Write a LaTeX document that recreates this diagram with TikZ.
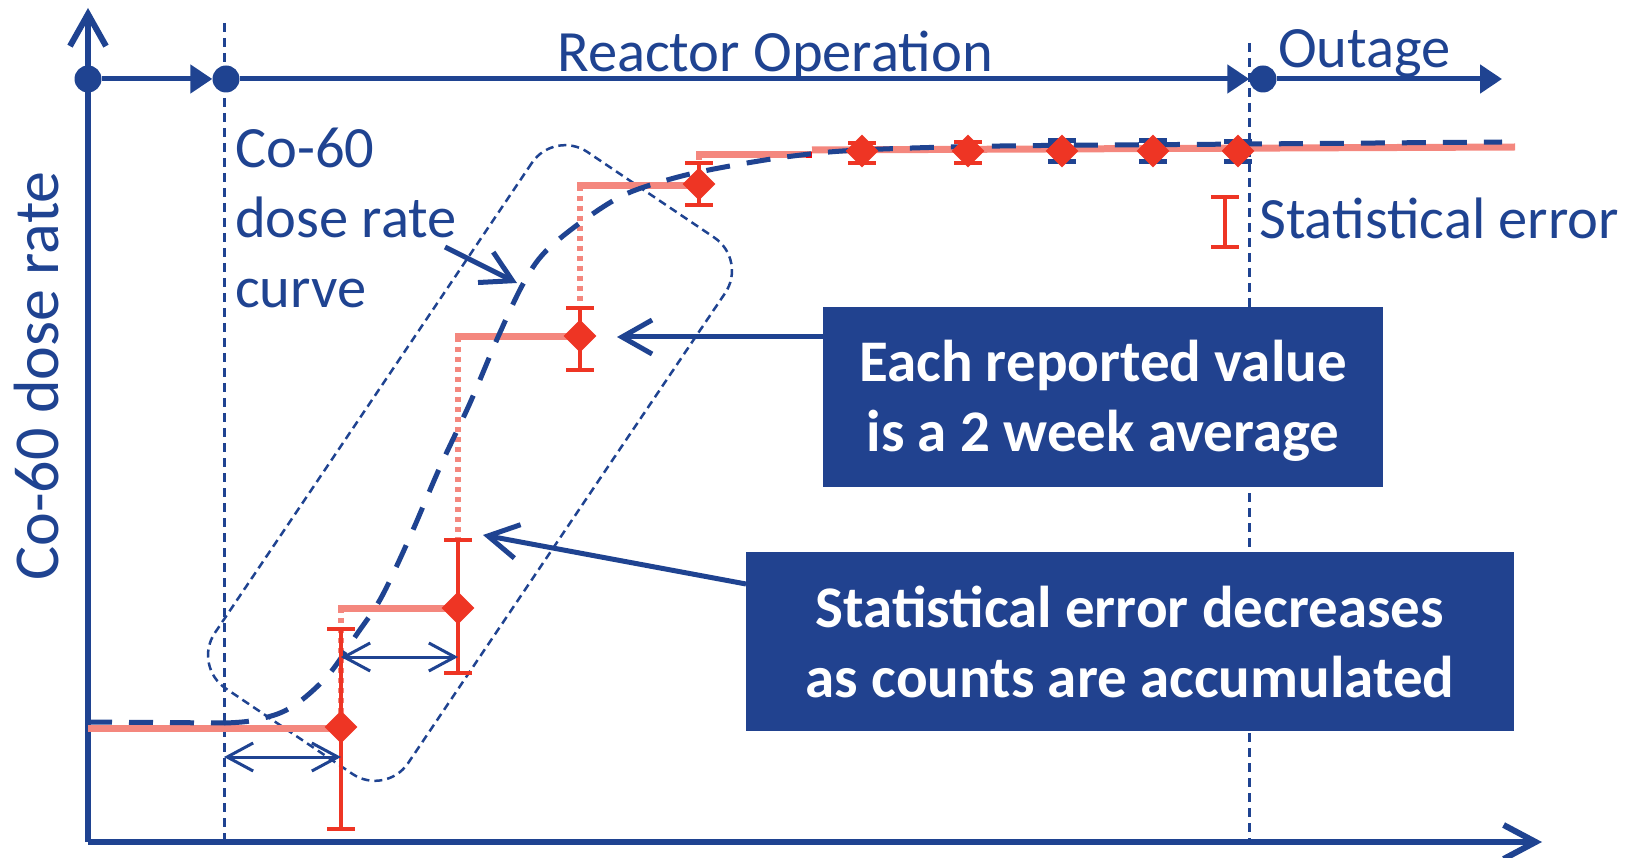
\documentclass[tikz,border=0pt]{standalone}
\usepackage{fontspec}
\setmainfont{Carlito}
\usetikzlibrary{arrows.meta,shapes.geometric,calc}
\definecolor{navy}{HTML}{1F4391}
\definecolor{boxblue}{HTML}{21428F}
\definecolor{redm}{HTML}{EE3524}
\definecolor{salmon}{HTML}{F4877E}
\newcommand\bigtxt{\fontsize{58.5}{70}\selectfont}
\newcommand\ytxt{\fontsize{64}{70}\selectfont}
\newcommand\boxtxt{\fontsize{59}{70}\selectfont\bfseries}
\newcommand\errbar[4]{\draw[#4] (#1,#2) -- (#1,#3) (#1-14,#2) -- (#1+14,#2) (#1-14,#3) -- (#1+14,#3);}
\begin{document}
\begin{tikzpicture}[x=1pt,y=-1pt,
  dot/.style={circle,fill=navy,inner sep=0pt,minimum size=27pt},
  vdash/.style={navy,line width=3pt,dash pattern=on 9pt off 6pt},
  axisline/.style={navy,line width=6pt},
  tline/.style={navy,line width=5pt,-{Triangle[length=22pt,width=28pt]}},
  steph/.style={salmon,line width=7pt},
  stepv/.style={salmon,line width=6pt,dash pattern=on 5pt off 5pt},
  ebar/.style={redm,line width=4pt},
  bcap/.style={navy,line width=5pt},
  diam/.style={diamond,fill=redm,inner sep=0pt,minimum width=33pt,minimum height=33pt},
  dosecurve/.style={navy,line width=5pt,dash pattern=on 24pt off 17pt},
  dblarrow/.style={navy,line width=3pt,{Straight Barb[length=26pt,width=28pt]}-{Straight Barb[length=26pt,width=28pt]}},
  pointer/.style={navy,line width=5pt,-{Straight Barb[length=30pt,width=34pt]}},
  lbl/.style={text=navy,font=\bigtxt,inner sep=0pt},
  infobox/.style={fill=boxblue,inner sep=0pt},
  infotext/.style={text=white,font=\boxtxt,align=center,inner sep=0pt}
]
\useasboundingbox (0,0) rectangle (1636,858);

% axes
\coordinate (origin) at (88,842);
\coordinate (ytop) at (88,8);
\coordinate (xend) at (1542,842);
\draw[axisline,-{Straight Barb[length=32pt,width=36pt]}] (origin) -- (ytop);
\draw[axisline,-{Straight Barb[length=32pt,width=34pt]}] (origin) -- (xend);

% vertical dashed lines
\coordinate (v1top) at (224,23);
\coordinate (v1bot) at (224,842);
\coordinate (v2top) at (1249,43);
\coordinate (v2bot) at (1249,842);
\draw[vdash] (v1top) -- (v1bot);
\draw[vdash] (v2top) -- (v2bot);

% timeline
\node[dot] (t0) at (88,79) {};
\node[dot] (t1) at (226,79) {};
\node[dot] (t2) at (1263,79) {};
\coordinate (tend) at (1502,79);
\draw[tline] (t0) -- (t1.west);
\draw[tline] (t1) -- (t2.west);
\draw[tline] (t2) -- (tend);

\node[lbl,anchor=base] (reactor) at (775,72) {Reactor Operation};
\node[lbl,anchor=base west] (outage) at (1278,68) {Outage};

% tilted rounded box
\node[draw=navy,line width=2.5pt,dash pattern=on 8pt off 5pt,rounded corners=40pt,
      minimum width=647pt,minimum height=233pt,rotate=56] (pill) at (470,463) {};

% salmon step curve
\draw[steph] (88,728) -- (341,728);
\draw[stepv] (341,608) -- (341,724);
\draw[steph] (338,608) -- (458,608);
\draw[stepv] (458,337) -- (458,540);
\draw[steph] (455,337) -- (580,337);
\draw[stepv] (580,186) -- (580,308);
\draw[steph] (577,186) -- (699,186);
\draw[stepv] (699,155) -- (699,163);
\draw[steph] (696,155) -- (812,155);
\draw[steph] (812,150) -- (1515,147);
\fill[red] (806,152) rectangle (812,158);

% dose rate curve
\draw[dosecurve] (88,722) -- (225,723) plot[smooth,tension=0.55] coordinates {
  (225,723) (250,721) (280,713) (303,699) (330,673) (357,634) (381,598)
  (409,539) (440,467) (470,403) (498,337) (523,284) (545,252) (584,220)
  (626,194) (678,177) (730,166) (793,156) (860,150) (1000,146) (1250,144) (1502,142)};

% error bars
\errbar{341}{629}{829}{ebar}
\errbar{458}{540}{673}{ebar}
\errbar{580}{308}{370}{ebar}
\errbar{699}{163}{205}{ebar}
\errbar{862}{143}{163}{ebar}
\errbar{968}{142}{163}{ebar}
\draw[bcap] (1048,141) -- (1076,141) (1048,162) -- (1076,162);
\draw[bcap] (1139,141) -- (1167,141) (1139,162) -- (1167,162);
\draw[bcap] (1224,142) -- (1252,142) (1224,162) -- (1252,162);

% diamonds
\node[diam] (d1) at (341,727) {};
\node[diam] (d2) at (458,608) {};
\node[diam] (d3) at (580,336) {};
\node[diam] (d4) at (699,184) {};
\node[diam] (d5) at (862,151) {};
\node[diam] (d6) at (968,151) {};
\node[diam] (d7) at (1062,151) {};
\node[diam] (d8) at (1153,151) {};
\node[diam] (d9) at (1238,151) {};

% double arrows
\coordinate (da1) at (224,757);
\coordinate (da2) at (341,757);
\coordinate (db1) at (341,657);
\coordinate (db2) at (458,657);
\draw[dblarrow] (da1) -- (da2);
\draw[dblarrow] (db1) -- (db2);

% curve label
\node[lbl,anchor=base west] (cl1) at (235,168) {Co-60};
\node[lbl,anchor=base west] (cl2) at (235,238) {dose rate};
\node[lbl,anchor=base west] (cl3) at (235,308) {curve};
\coordinate (cltail) at (445,247);
\coordinate (cltip) at (517,283);
\draw[pointer] (cltail) -- (cltip);

% legend
\errbar{1225}{197}{247}{ebar}
\node[lbl,anchor=base west] (stat) at (1259,239) {Statistical error};

% y label
\node[lbl,font=\ytxt,rotate=90] (ylab) at (37,376) {Co-60 dose rate};

% info boxes
\node[infobox,minimum width=560pt,minimum height=180pt] (b1) at (1103,397) {};
\node[infotext] (b1txt) at (1103,401) {Each reported value\\is a 2 week average};
\node[infobox,minimum width=768pt,minimum height=179pt] (b2) at (1130,641) {};
\node[infotext] (b2txt) at (1130,642) {Statistical error decreases\\as counts are accumulated};
\coordinate (p1tip) at (617,337);
\coordinate (p2start) at (746,584);
\coordinate (p2tip) at (483,535);
\draw[pointer] (b1.west |- p1tip) -- (p1tip);
\draw[pointer] (p2start) -- (p2tip);
\end{tikzpicture}
\end{document}
